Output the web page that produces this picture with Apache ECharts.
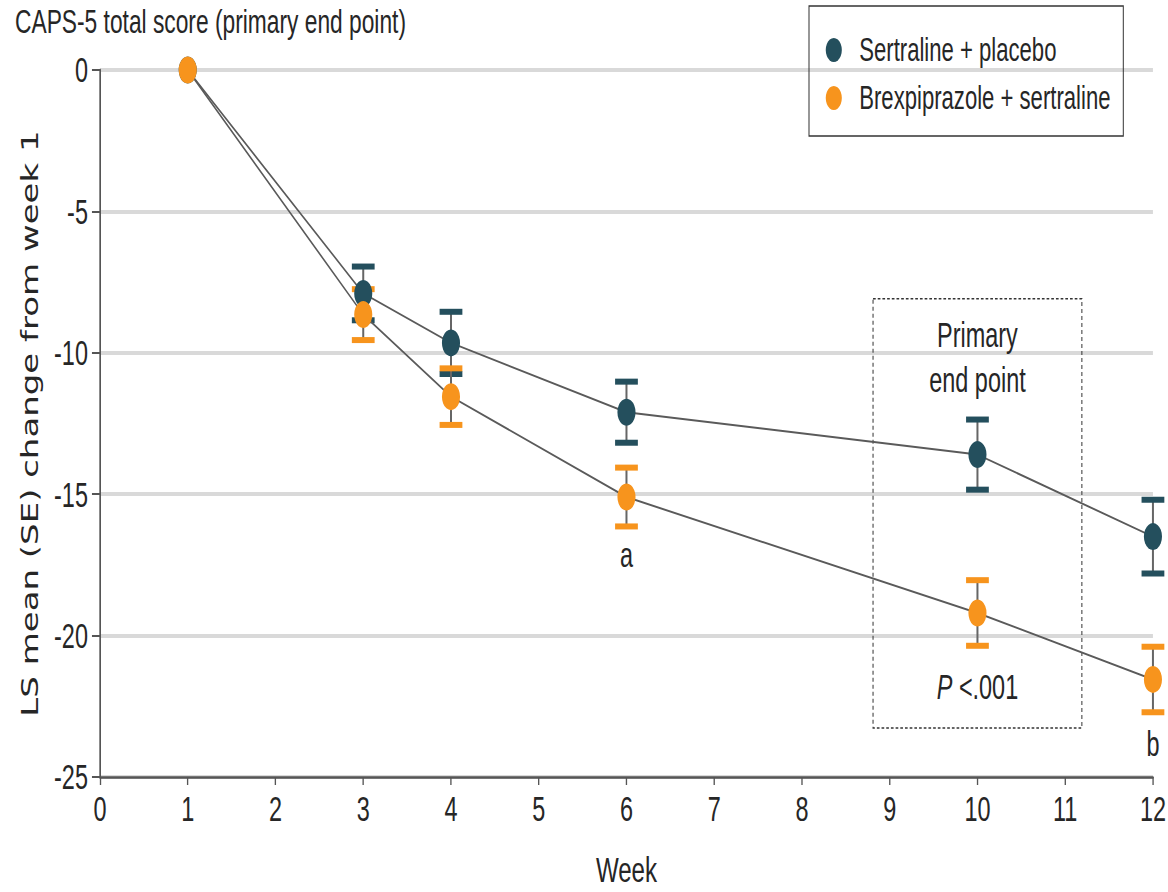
<!DOCTYPE html>
<html>
<head>
<meta charset="utf-8">
<script src="https://cdn.jsdelivr.net/npm/echarts@6/dist/echarts.min.js"></script>
<style>
  html, body { margin: 0; padding: 0; background: #fff; overflow: hidden; }
  #wrap { width: 1168px; height: 892px; overflow: hidden; }
  #chart { height: 892px; transform-origin: 0 0; }
</style>
</head>
<body>
<div id="wrap"><div id="chart"></div></div>
<script>
// Weeks with observations and LS mean change from week 1 (with SE)
const weeks = [1, 3, 4, 6, 10, 12];
const sertPlacebo = [0, -7.9, -9.65, -12.1, -13.6, -16.5];
const sertPlaceboSE = [0, 0.95, 1.1, 1.08, 1.24, 1.3];
const brexSert = [0, -8.65, -11.55, -15.1, -19.2, -21.55];
const brexSertSE = [0, 0.9, 1.0, 1.04, 1.16, 1.16];
const xTicks = [0, 1, 2, 3, 4, 5, 6, 7, 8, 9, 10, 11, 12];
const yTicks = [0, -5, -10, -15, -20, -25];
const seriesNames = ['Sertraline + placebo', 'Brexpiprazole + sertraline'];

// Horizontal condensing factor applied to the whole figure
const SX = 0.67;
const W = 1168 / SX;
const H = 892;

const TEAL = '#244f5d';
const ORANGE = '#f7941d';
const INK = '#262626';
const FONT = '"Liberation Sans", Arial, sans-serif';

const el = document.getElementById('chart');
el.style.width = W + 'px';
el.style.transform = 'scaleX(' + SX + ')';

const chart = echarts.init(el, null, { renderer: 'svg', width: W, height: H });

function errorBars(color) {
  return function (params, api) {
    const x = api.value(0), y = api.value(1), se = api.value(2);
    if (!se) return null;
    const top = api.coord([x, y + se]);
    const bot = api.coord([x, y - se]);
    const cw = 34, ch = 6;
    return {
      type: 'group',
      children: [
        { type: 'line', shape: { x1: top[0], y1: top[1], x2: bot[0], y2: bot[1] },
          style: { stroke: '#666', lineWidth: 3 } },
        { type: 'rect', shape: { x: top[0] - cw / 2, y: top[1] - ch / 2, width: cw, height: ch },
          style: { fill: color } },
        { type: 'rect', shape: { x: bot[0] - cw / 2, y: bot[1] - ch / 2, width: cw, height: ch },
          style: { fill: color } }
      ]
    };
  };
}

const option = {
  animation: false,
  backgroundColor: '#fff',
  title: {
    text: 'CAPS-5 total score (primary end point)',
    left: 15 / SX, top: 4, padding: 0,
    textStyle: { fontFamily: FONT, fontSize: 34, fontWeight: 'normal', color: INK }
  },
  grid: { left: 100 / SX, right: W - 1157 / SX, top: 70, bottom: H - 778 },
  legend: {
    orient: 'vertical',
    left: 809 / SX, top: 6,
    padding: [26, 19, 20, 25],
    itemGap: 12,
    itemWidth: 24, itemHeight: 24,
    icon: 'circle',
    borderColor: '#333', borderWidth: 1.5,
    data: seriesNames,
    textStyle: { fontFamily: FONT, fontSize: 33, color: INK, lineHeight: 36, padding: [0, 0, 0, 21] }
  },
  xAxis: {
    type: 'value', min: 0, max: 12, interval: 1,
    name: 'Week', nameLocation: 'middle', nameGap: 74,
    nameTextStyle: { fontFamily: FONT, fontSize: 36, color: INK },
    axisLine: { onZero: false, lineStyle: { color: '#555', width: 2.5 } },
    axisTick: { length: 8, lineStyle: { color: '#555', width: 2 } },
    axisLabel: { fontFamily: FONT, fontSize: 35, color: INK, margin: 14,
      formatter: v => xTicks.includes(v) ? String(v) : '' },
    splitLine: { show: false }
  },
  yAxis: {
    type: 'value', min: -25, max: 0, interval: 5,
    name: 'LS mean (SE) change from week 1', nameLocation: 'middle', nameGap: 88,
    nameTextStyle: { fontFamily: '"DejaVu Sans", Verdana, sans-serif', fontSize: 34, color: INK },
    axisLine: { show: true, onZero: false, lineStyle: { color: '#555', width: 2.5 } },
    axisTick: { show: true, length: 12, lineStyle: { color: '#555', width: 2 } },
    axisLabel: { fontFamily: FONT, fontSize: 35, color: INK, margin: 18,
      formatter: v => yTicks.includes(v) ? String(v) : '' },
    splitLine: { show: true, lineStyle: { color: '#d9d9d9', width: 4 } }
  },
  series: [
    {
      type: 'custom', name: 'se-placebo', z: 1, clip: false,
      renderItem: errorBars(TEAL),
      data: weeks.map((w, i) => [w, sertPlacebo[i], sertPlaceboSE[i]])
    },
    {
      type: 'custom', name: 'se-brex', z: 1, clip: false,
      renderItem: errorBars(ORANGE),
      data: weeks.map((w, i) => [w, brexSert[i], brexSertSE[i]])
    },
    {
      type: 'line', name: seriesNames[0], z: 2,
      data: weeks.map((w, i) => [w, sertPlacebo[i]]),
      symbol: 'circle', symbolSize: 27,
      itemStyle: { color: TEAL },
      lineStyle: { color: '#5a5a5a', width: 2 },
      markArea: {
        silent: true,
        itemStyle: { color: 'rgba(0,0,0,0)', borderColor: '#333', borderWidth: 1.5, borderType: [4, 3] },
        data: [[{ coord: [8.81, -8.09] }, { coord: [11.19, -23.27] }]]
      }
    },
    {
      type: 'line', name: seriesNames[1], z: 3,
      data: weeks.map((w, i) => [w, brexSert[i]]),
      symbol: 'circle', symbolSize: 27,
      itemStyle: { color: ORANGE },
      lineStyle: { color: '#5a5a5a', width: 2 }
    }
  ]
};

chart.setOption(option);

// Text annotations anchored at data coordinates
const notes = [
  { at: [10, -9.36], text: 'Primary' },
  { at: [10, -10.95], text: 'end point' },
  { at: [10, -21.82], text: '{i|P} <.001' },
  { at: [6, -17.13], text: 'a' },
  { at: [12, -23.83], text: 'b' }
];
chart.setOption({
  graphic: notes.map(n => {
    const p = chart.convertToPixel({ gridIndex: 0 }, n.at);
    return {
      type: 'text', x: p[0], y: p[1], z: 10,
      style: {
        text: n.text, fill: INK, font: '35px ' + FONT,
        align: 'center', verticalAlign: 'middle',
        rich: { i: { fontStyle: 'italic', fontSize: 35, fontFamily: FONT, fill: INK } }
      }
    };
  })
});
</script>
</body>
</html>
